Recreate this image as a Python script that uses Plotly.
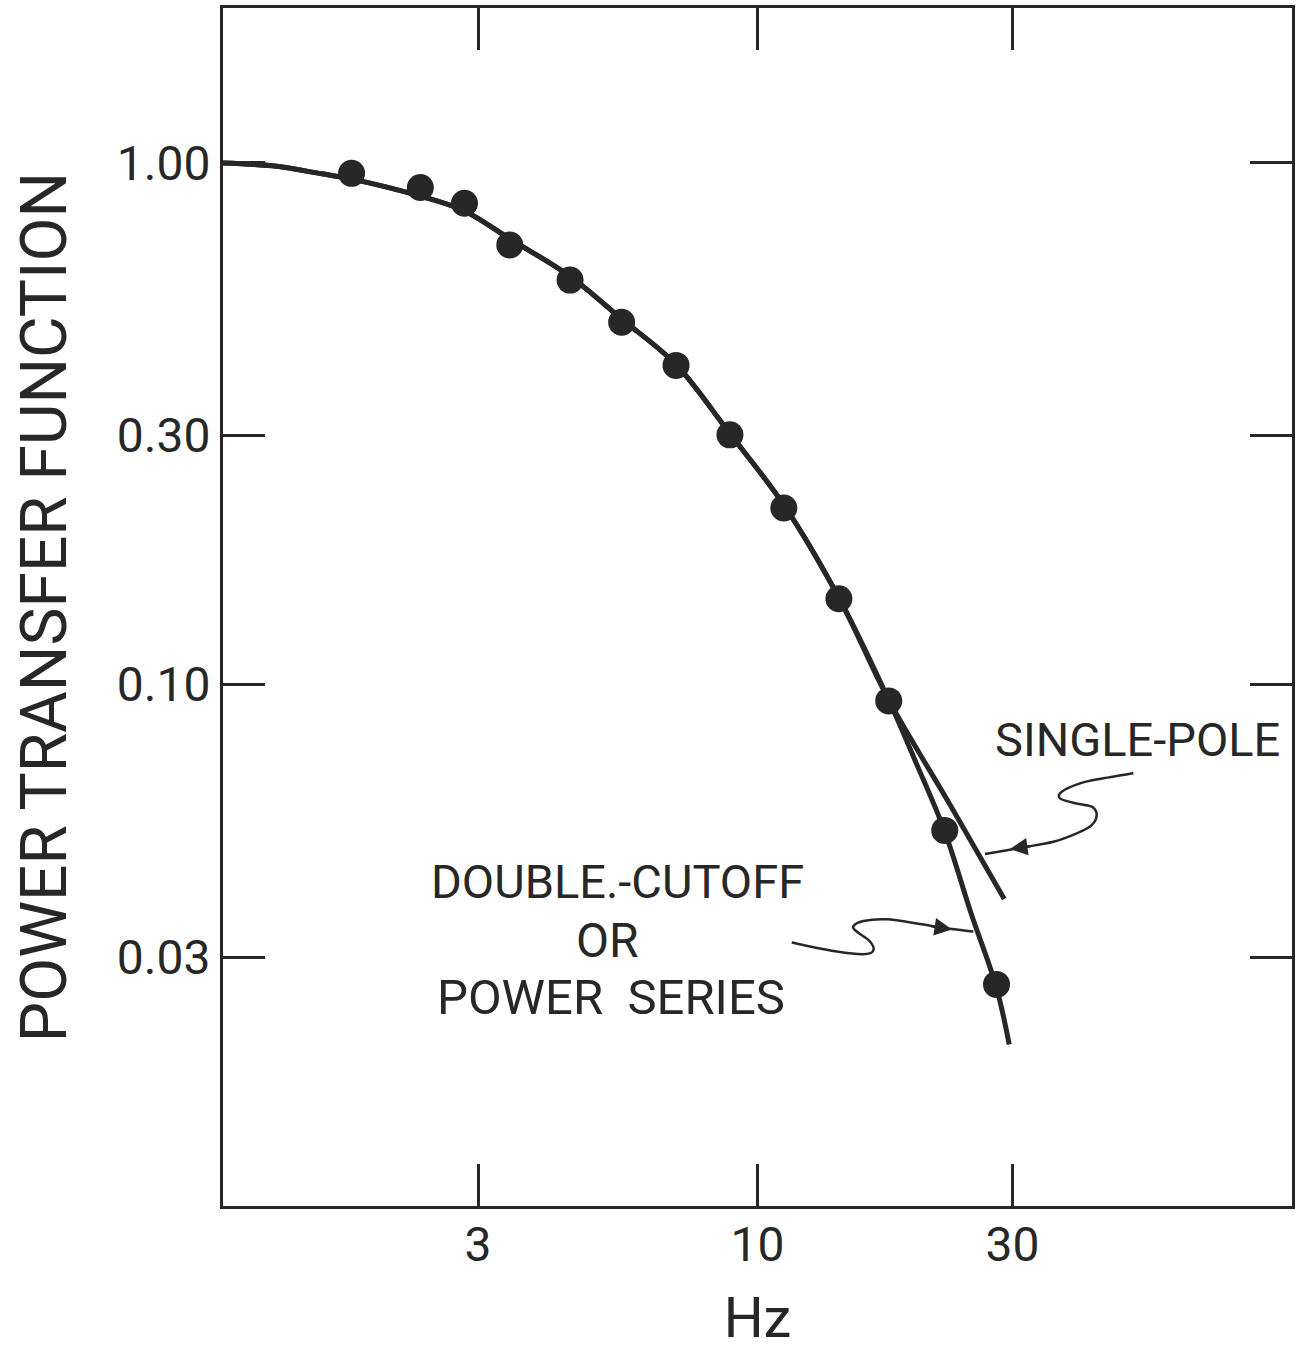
import plotly.graph_objects as go

# Measured power transfer function (dots)
freq_hz = [1.74, 2.34, 2.83, 3.44, 4.46, 5.57, 7.04, 8.88, 11.2, 14.2, 17.6, 22.4, 28.0]
power_tf = [0.955, 0.897, 0.837, 0.696, 0.596, 0.495, 0.409, 0.301, 0.218, 0.146, 0.093, 0.0525, 0.0266]

# Fitted curve common to both models, up to where they part
fit_hz = [1.0, 1.235, 1.53, 1.735, 2.335, 2.83, 3.44, 4.45, 5.57, 7.03, 8.87, 11.23, 14.23, 17.58]
fit_tf = [1.0, 0.987, 0.953, 0.932, 0.864, 0.809, 0.715, 0.607, 0.502, 0.411, 0.303, 0.220, 0.146, 0.0936]

# High-frequency tails of the two models
single_pole_hz = [22.85, 28.95]
single_pole_tf = [0.0591, 0.0388]
double_cutoff_hz = [19.83, 22.36, 25.12, 27.97, 29.58]
double_cutoff_tf = [0.0705, 0.0525, 0.0363, 0.0263, 0.0204]

x_ticks = [3, 10, 30]
x_tick_text = ["3", "10", "30"]
y_ticks = [1.0, 0.3, 0.1, 0.03]
y_tick_text = ["1.00", "0.30", "0.10", "0.03"]

INK = "#272727"
FONT = "Roboto, Liberation Sans, DejaVu Sans, sans-serif"

fig = go.Figure()

for tail_hz, tail_tf in [(single_pole_hz, single_pole_tf), (double_cutoff_hz, double_cutoff_tf)]:
    fig.add_trace(go.Scatter(
        x=fit_hz + tail_hz, y=fit_tf + tail_tf,
        mode="lines", line=dict(color=INK, width=5, shape="spline", smoothing=1.0),
        hoverinfo="skip",
    ))

fig.add_trace(go.Scatter(
    x=freq_hz, y=power_tf, mode="markers",
    marker=dict(size=27, color=INK, line=dict(width=0)),
))


def smooth_path(pts):
    """Catmull-Rom through the points, written as cubic Bezier segments."""
    d = f"M {pts[0][0]:.4f},{pts[0][1]:.4f}"
    for i in range(len(pts) - 1):
        p0 = pts[i - 1] if i > 0 else pts[i]
        p1, p2 = pts[i], pts[i + 1]
        p3 = pts[i + 2] if i + 2 < len(pts) else p2
        c1 = (p1[0] + (p2[0] - p0[0]) / 6, p1[1] + (p2[1] - p0[1]) / 6)
        c2 = (p2[0] - (p3[0] - p1[0]) / 6, p2[1] - (p3[1] - p1[1]) / 6)
        d += (f" C {c1[0]:.4f},{c1[1]:.4f} {c2[0]:.4f},{c2[1]:.4f}"
              f" {p2[0]:.4f},{p2[1]:.4f}")
    return d


# Squiggly leader lines (paper coordinates)
single_pole_leader = [
    (0.8516, 0.3612), (0.8235, 0.3570), (0.8017, 0.3528), (0.7846, 0.3458),
    (0.7830, 0.3403), (0.7954, 0.3366), (0.8126, 0.3333), (0.8173, 0.3264),
    (0.8126, 0.3180), (0.7986, 0.3111), (0.7767, 0.3041), (0.7486, 0.2994),
    (0.7128, 0.2938),
]
double_cutoff_leader = [
    (0.5320, 0.2200), (0.5491, 0.2166), (0.5741, 0.2124), (0.5990, 0.2102),
    (0.6083, 0.2131), (0.6052, 0.2208), (0.5928, 0.2291), (0.5896, 0.2333),
    (0.5990, 0.2379), (0.6209, 0.2393), (0.6520, 0.2354), (0.6738, 0.2320),
    (0.7019, 0.2291),
]
for leader in (single_pole_leader, double_cutoff_leader):
    fig.add_shape(type="path", xref="paper", yref="paper", path=smooth_path(leader),
                  line=dict(color=INK, width=2.5), fillcolor="rgba(0,0,0,0)")

# Arrowheads on the leaders
for hx, hy, ax, ay in [(0.7362, 0.2980, 22, -3), (0.6819, 0.2308, -22, -3.5)]:
    fig.add_annotation(x=hx, y=hy, xref="paper", yref="paper", ax=ax, ay=ay,
                       text="", showarrow=True, arrowhead=2, arrowsize=1.4,
                       arrowwidth=2.5, arrowcolor=INK)

labels = [
    ("SINGLE-POLE", 0.8559, 0.3890, 47),
    ("DOUBLE.-CUTOFF", 0.3686, 0.2705, 47),
    ("OR", 0.3601, 0.2220, 48),
    ("POWER  SERIES", 0.3630, 0.1738, 49),
]
for text, lx, ly, size in labels:
    fig.add_annotation(x=lx, y=ly, xref="paper", yref="paper", text=text,
                       showarrow=False, xanchor="center", yanchor="middle",
                       font=dict(family=FONT, size=size, color=INK))

axis_common = dict(
    type="log", showgrid=False, zeroline=False, automargin=False,
    showline=True, linewidth=3, linecolor=INK, mirror="ticks",
    ticks="inside", ticklen=42, tickwidth=3, tickcolor=INK,
    tickfont=dict(family=FONT, size=48, color=INK),
)

fig.update_xaxes(
    **axis_common, range=[0, 2], tickvals=x_ticks, ticktext=x_tick_text,
    ticklabelstandoff=-6,
    title=dict(text="Hz", font=dict(family=FONT, size=56, color=INK), standoff=47),
)
fig.update_yaxes(
    **axis_common, range=[-2, 0.297], tickvals=y_ticks, ticktext=y_tick_text,
    ticklabelstandoff=0,
    title=dict(text="POWER TRANSFER FUNCTION", font=dict(family=FONT, size=64, color=INK),
               standoff=30),
)

fig.update_layout(
    width=1298, height=1351,
    margin=dict(l=223, r=6, t=8, b=145),
    paper_bgcolor="white", plot_bgcolor="white",
    showlegend=False,
)

fig.write_html("out.html")
